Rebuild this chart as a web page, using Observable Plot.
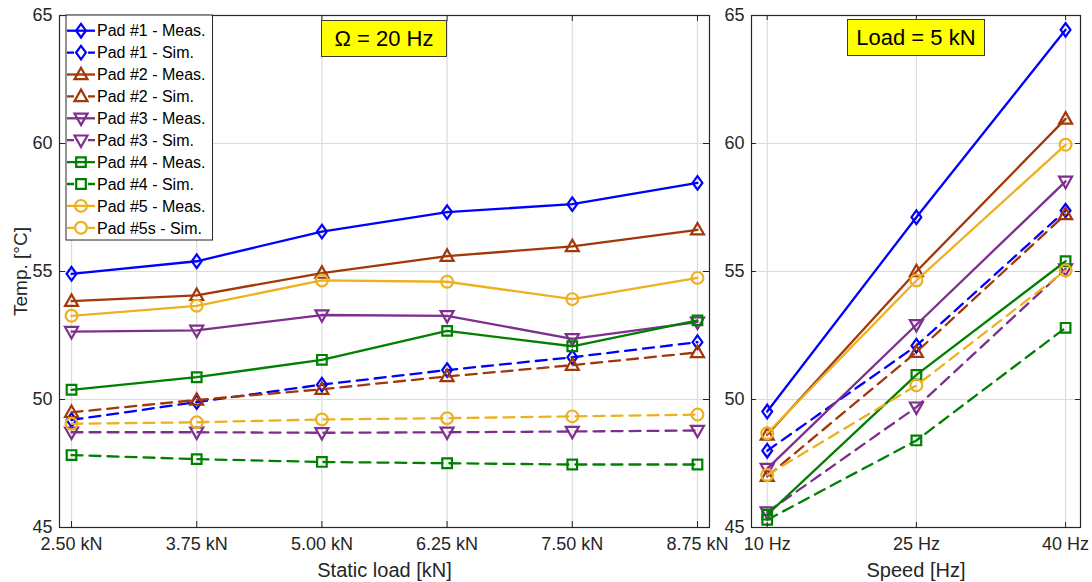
<!DOCTYPE html>
<html><head><meta charset="utf-8">
<script src="https://cdn.jsdelivr.net/npm/d3@7"></script>
<script src="https://cdn.jsdelivr.net/npm/@observablehq/plot@0.6"></script>
<style>
html,body{margin:0;padding:0;background:#fff;}
#wrap{position:relative;width:1092px;height:582px;overflow:hidden;font-family:"Liberation Sans",Arial,sans-serif;background:#fff;}
#wrap svg{position:absolute;top:0;overflow:visible;background:transparent !important;}
.tbox{position:absolute;background:#ffff00;border:1px solid #3a3a3a;box-sizing:border-box;display:flex;align-items:center;justify-content:center;font-size:22px;color:#000;white-space:nowrap;font-family:"Liberation Sans",Arial,sans-serif;}
</style></head><body><div id="wrap"></div>
<script>
// ---------- data ----------
const loads = [2.5, 3.75, 5, 6.25, 7.5, 8.75];
const loadLabels = ["2.50 kN", "3.75 kN", "5.00 kN", "6.25 kN", "7.50 kN", "8.75 kN"];
const speeds = [10, 25, 40];
const speedLabels = ["10 Hz", "25 Hz", "40 Hz"];
const tempTicks = [45, 50, 55, 60, 65];

const seriesNames = ["Pad #1 - Meas.", "Pad #1 - Sim.", "Pad #2 - Meas.", "Pad #2 - Sim.", "Pad #3 - Meas.", "Pad #3 - Sim.", "Pad #4 - Meas.", "Pad #4 - Sim.", "Pad #5 - Meas.", "Pad #5s - Sim."];
const seriesColors = ["#0000ff", "#0000ff", "#a2380a", "#a2380a", "#7e2f8e", "#7e2f8e", "#008000", "#008000", "#edb120", "#edb120"];
const seriesMarkers = ["diamond", "diamond", "triUp", "triUp", "triDown", "triDown", "square", "square", "circle", "circle"];
const seriesDashed = [false, true, false, true, false, true, false, true, false, true];

// Temperature vs static load (Omega = 20 Hz)
const pad1MeasLoad = [54.91, 55.40, 56.56, 57.32, 57.63, 58.46];
const pad1SimLoad  = [49.20, 49.90, 50.58, 51.15, 51.65, 52.24];
const pad2MeasLoad = [53.84, 54.07, 54.94, 55.60, 55.98, 56.63];
const pad2SimLoad  = [49.50, 49.98, 50.40, 50.90, 51.34, 51.84];
const pad3MeasLoad = [52.65, 52.70, 53.30, 53.27, 52.37, 53.02];
const pad3SimLoad  = [48.72, 48.72, 48.70, 48.72, 48.75, 48.79];
const pad4MeasLoad = [50.38, 50.87, 51.55, 52.68, 52.08, 53.09];
const pad4SimLoad  = [47.83, 47.67, 47.56, 47.51, 47.46, 47.46];
const pad5MeasLoad = [53.27, 53.66, 54.65, 54.60, 53.92, 54.75];
const pad5SimLoad  = [49.05, 49.11, 49.22, 49.27, 49.34, 49.41];

// Temperature vs speed (Load = 5 kN)
const pad1MeasSpeed = [49.53, 57.12, 64.44];
const pad1SimSpeed  = [48.00, 52.10, 57.38];
const pad2MeasSpeed = [48.62, 55.00, 60.96];
const pad2SimSpeed  = [47.00, 51.85, 57.23];
const pad3MeasSpeed = [47.30, 52.92, 58.52];
const pad3SimSpeed  = [45.60, 49.70, 55.10];
const pad4MeasSpeed = [45.50, 50.96, 55.40];
const pad4SimSpeed  = [45.30, 48.40, 52.80];
const pad5MeasSpeed = [48.68, 54.65, 59.95];
const pad5SimSpeed  = [47.05, 50.55, 55.04];

const loadSeries = [pad1MeasLoad, pad1SimLoad, pad2MeasLoad, pad2SimLoad, pad3MeasLoad, pad3SimLoad, pad4MeasLoad, pad4SimLoad, pad5MeasLoad, pad5SimLoad];
const speedSeries = [pad1MeasSpeed, pad1SimSpeed, pad2MeasSpeed, pad2SimSpeed, pad3MeasSpeed, pad3SimSpeed, pad4MeasSpeed, pad4SimSpeed, pad5MeasSpeed, pad5SimSpeed];

// ---------- marker shapes ----------
const symbols = {
  diamond: {draw(c) { c.moveTo(0, -6.8); c.lineTo(4.9, 0); c.lineTo(0, 6.8); c.lineTo(-4.9, 0); c.closePath(); }},
  triUp: {draw(c) { c.moveTo(0, -6.8); c.lineTo(6.5, 4.7); c.lineTo(-6.5, 4.7); c.closePath(); }},
  triDown: {draw(c) { c.moveTo(0, 6.8); c.lineTo(6.5, -4.7); c.lineTo(-6.5, -4.7); c.closePath(); }},
  square: {draw(c) { c.moveTo(-4.8, -4.8); c.lineTo(4.8, -4.8); c.lineTo(4.8, 4.8); c.lineTo(-4.8, 4.8); c.closePath(); }},
  circle: {draw(c) { c.moveTo(5.9, 0); c.arc(0, 0, 5.9, 0, 2 * Math.PI); c.closePath(); }}
};

const DASH = "11,7";
const AX = "#262626";
const LW = 2.3;

function panel({xs, xLabels, series, domain, width, marginLeft, marginRight, tickLen, xTitle, yTitle}) {
  const marginTop = 15, marginBottom = 55, height = 582;
  const innerW = width - marginLeft - marginRight;
  const innerH = height - marginTop - marginBottom;
  const fmt = new Map(xs.map((v, i) => [v, xLabels[i]]));
  const marks = [
    Plot.gridX(xs, {stroke: "#dcdcdc", strokeOpacity: 1, strokeWidth: 1.2}),
    Plot.gridY(tempTicks, {stroke: "#dcdcdc", strokeOpacity: 1, strokeWidth: 1.2})
  ];
  series.forEach((vals, s) => {
    const rows = xs.map((x, i) => ({x, y: vals[i]}));
    marks.push(Plot.line(rows, {x: "x", y: "y", stroke: seriesColors[s], strokeWidth: LW,
      strokeDasharray: seriesDashed[s] ? DASH : null, strokeLinejoin: "round"}));
    marks.push(Plot.dot(rows, {x: "x", y: "y", symbol: symbols[seriesMarkers[s]], r: 6,
      stroke: seriesColors[s], strokeWidth: 2.2, fill: "none"}));
  });
  marks.push(
    Plot.ruleY(tempTicks, {y: d => d, insetRight: innerW - tickLen, stroke: AX}),
    Plot.ruleY(tempTicks, {y: d => d, insetLeft: innerW - tickLen, stroke: AX}),
    Plot.ruleX(xs, {x: d => d, insetTop: innerH - tickLen, stroke: AX}),
    Plot.ruleX(xs, {x: d => d, insetBottom: innerH - tickLen, stroke: AX}),
    Plot.frame({stroke: AX, strokeWidth: 1.2}),
    Plot.axisX({ticks: xs, tickFormat: d => fmt.get(d), tickSize: 0, tickPadding: 10, fontSize: 18, fill: AX, label: null}),
    Plot.axisY({ticks: tempTicks, tickSize: 0, tickPadding: 7, fontSize: 18, fill: AX, label: null}),
    Plot.text([xTitle], {text: d => d, frameAnchor: "bottom", dy: 43, fontSize: 20, fill: AX, lineAnchor: "middle"})
  );
  if (yTitle) marks.push(Plot.text([yTitle], {text: d => d, frameAnchor: "left", dx: -39, rotate: -90, fontSize: 19, fill: AX, textAnchor: "middle", lineAnchor: "middle"}));
  return Plot.plot({
    width, height, marginTop, marginBottom, marginLeft, marginRight,
    x: {domain, label: null},
    y: {domain: [45, 65], label: null},
    style: {fontFamily: '"Liberation Sans", Arial, sans-serif', background: "transparent", overflow: "visible"},
    marks
  });
}

const wrap = document.getElementById("wrap");
const left = panel({xs: loads, xLabels: loadLabels, series: loadSeries, domain: [2.38, 8.87], width: 720,
  marginLeft: 59, marginRight: 11, tickLen: 6, xTitle: "Static load [kN]", yTitle: "Temp. [°C]"});
left.style.left = "0px";
wrap.appendChild(left);
const right = panel({xs: speeds, xLabels: speedLabels, series: speedSeries, domain: [8.42, 41.5], width: 372,
  marginLeft: 31, marginRight: 12, tickLen: 5, xTitle: "Speed [Hz]", yTitle: null});
right.style.left = "720px";
wrap.appendChild(right);

// ---------- title boxes ----------
function tbox(text, cx, top, w, h) {
  const d = document.createElement("div");
  d.className = "tbox";
  d.textContent = text;
  d.style.left = (cx - w / 2) + "px";
  d.style.top = top + "px";
  d.style.width = w + "px";
  d.style.height = h + "px";
  wrap.appendChild(d);
}
tbox("Ω = 20 Hz", 59 + (720 - 59 - 11) / 2, 20, 126, 37);
tbox("Load = 5 kN", 720 + right.scale("x").apply(25), 19, 138, 37);

// ---------- legend ----------
const leg = d3.select(wrap).append("svg").attr("width", 150).attr("height", 230)
  .style("left", "65px").style("top", "14px");
leg.append("rect").attr("x", 1).attr("y", 1).attr("width", 146.5).attr("height", 225)
  .attr("fill", "#fff").attr("stroke", AX).attr("stroke-width", 1);
seriesNames.forEach((name, i) => {
  const cy = 16.7 + 21.9 * i;
  const g = leg.append("g");
  g.append("line").attr("x1", 2).attr("x2", 30).attr("y1", cy).attr("y2", cy)
    .attr("stroke", seriesColors[i]).attr("stroke-width", LW)
    .attr("stroke-dasharray", seriesDashed[i] ? "7,14,7" : null);
  g.append("path").attr("d", d3.symbol(symbols[seriesMarkers[i]], 100)())
    .attr("transform", `translate(16,${cy})`).attr("fill", "none")
    .attr("stroke", seriesColors[i]).attr("stroke-width", 2.2);
  g.append("text").attr("x", 32).attr("y", cy + 5.7).text(name)
    .attr("font-size", 16).attr("fill", "#000").attr("font-family", '"Liberation Sans", Arial, sans-serif');
});
</script>
</body></html>
